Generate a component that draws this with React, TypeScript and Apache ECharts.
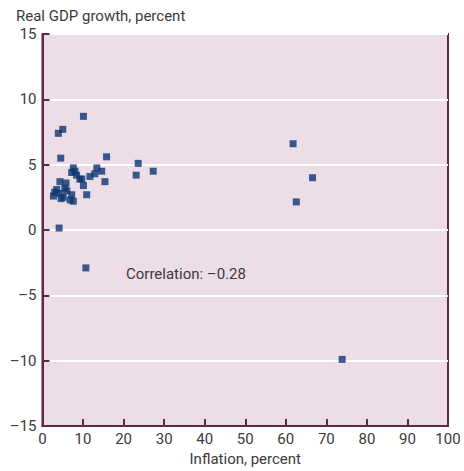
import React, { useEffect, useRef } from "react";
import * as echarts from "echarts";

const inflation = [
  10.1, 5.0, 3.9, 4.5, 15.8, 23.6, 23.1, 27.3, 7.6, 8.4, 9.7, 10.1, 10.9, 11.7, 13.4, 14.6, 15.4,
  4.3, 3.5, 2.7, 4.3, 5.5, 5.1, 6.8, 7.2, 4.1, 10.7, 61.8, 66.6, 62.6, 73.9,
  7.2, 12.9, 6.0, 4.6, 3.0, 7.6, 9.2, 5.8, 8.0,
];
const growth = [
  8.7, 7.7, 7.4, 5.5, 5.6, 5.1, 4.2, 4.5, 4.75, 4.2, 3.9, 3.4, 2.7, 4.1, 4.75, 4.5, 3.7,
  3.7, 3.1, 2.6, 2.8, 3.2, 2.5, 2.3, 2.7, 0.15, -2.9, 6.6, 4.0, 2.15, -9.9,
  4.4, 4.3, 3.0, 2.4, 2.9, 2.2, 3.9, 3.6, 4.5,
];
const xTicks = [0, 10, 20, 30, 40, 50, 60, 70, 80, 90, 100];
const yTicks = [-15, -10, -5, 0, 5, 10, 15];

const FONT = "Roboto, 'DejaVu Sans Condensed', sans-serif";
const FRAME = "#5e2745";
const TEXT = "#3a3a3a";

export default function App() {
  const ref = useRef<HTMLDivElement>(null);
  useEffect(() => {
    document.body.style.margin = "0";
    const chart = echarts.init(ref.current!, undefined, { renderer: "svg" });
    const points = inflation.map((x, i) => [x, growth[i]]);
    chart.setOption({
      animation: false,
      backgroundColor: "#ffffff",
      grid: {
        left: 42.5,
        right: 16,
        top: 34,
        bottom: 45,
        show: true,
        backgroundColor: "#ecdde6",
        borderColor: FRAME,
        borderWidth: 2,
      },
      xAxis: {
        type: "value",
        min: xTicks[0],
        max: xTicks[xTicks.length - 1],
        interval: 10,
        name: "Inflation, percent",
        nameLocation: "middle",
        nameGap: 25,
        nameTextStyle: { fontFamily: FONT, fontSize: 15, color: TEXT },
        axisLine: { show: true, onZero: false, lineStyle: { color: FRAME, width: 2 } },
        axisTick: { show: true, inside: true, length: 7, lineStyle: { color: FRAME, width: 2 } },
        axisLabel: { fontFamily: FONT, fontSize: 15, color: TEXT, margin: 5 },
        splitLine: { show: false },
      },
      yAxis: {
        type: "value",
        min: yTicks[0],
        max: yTicks[yTicks.length - 1],
        interval: 5,
        axisLine: { show: true, onZero: false, lineStyle: { color: FRAME, width: 2 } },
        axisTick: { show: true, inside: true, length: 7, lineStyle: { color: FRAME, width: 2 } },
        axisLabel: {
          fontFamily: FONT,
          fontSize: 15,
          color: TEXT,
          margin: 6,
          formatter: (v: number) => (v < 0 ? "\u2013" + Math.abs(v) : String(v)),
        },
        splitLine: { show: true, lineStyle: { color: "#ffffff", width: 2 } },
      },
      graphic: [
        {
          type: "text",
          left: 16,
          top: 8,
          style: { text: "Real GDP growth, percent", fontFamily: FONT, fontSize: 15, fill: TEXT },
        },
        {
          type: "text",
          left: 126,
          top: 266,
          style: { text: "Correlation: \u20130.28", fontFamily: FONT, fontSize: 15, fill: TEXT },
        },
      ],
      series: [
        {
          type: "scatter",
          data: points,
          symbol: "rect",
          symbolSize: 7,
          itemStyle: { color: "#0d3670" },
        },
      ],
    });
    return () => chart.dispose();
  }, []);
  return <div ref={ref} style={{ width: 464, height: 471 }} />;
}
